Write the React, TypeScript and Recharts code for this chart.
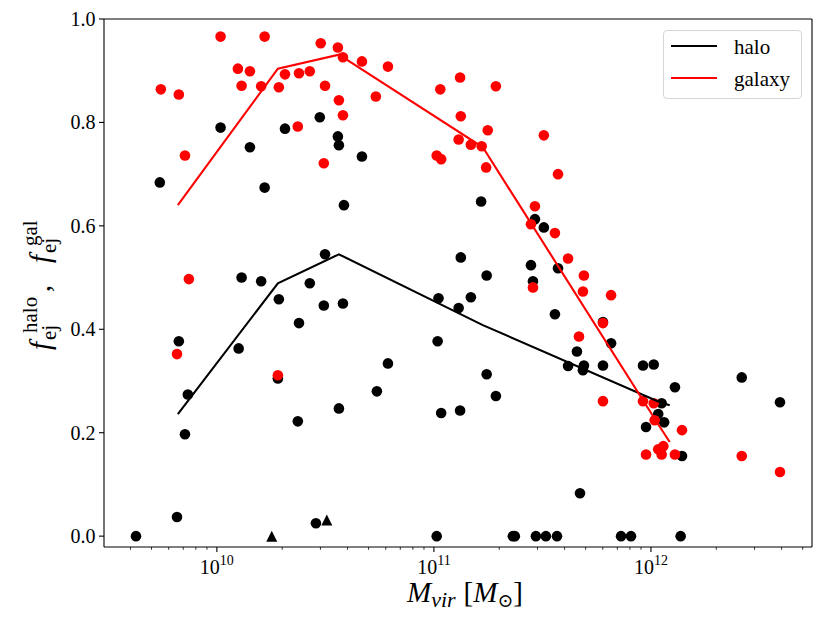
import React from 'react';
import { ScatterChart, Scatter, XAxis, YAxis, ReferenceLine } from 'recharts';

// ---------- data ----------
const haloMass = [
  1.04e10, 1.42e10, 5.46e9, 1.66e10, 2.06e10, 2.98e10, 3.61e10, 3.65e10, 3.85e10, 3.15e10,
  1.30e10, 1.60e10, 2.68e10, 4.66e10, 1.65e11, 2.92e11, 3.21e11, 1.33e11, 1.75e11, 2.80e11,
  2.86e11, 3.73e11, 3.81e10, 1.05e11, 1.30e11, 1.48e11, 3.61e11, 1.04e11, 6.14e10, 5.46e10,
  1.75e11, 1.93e11, 3.65e10, 1.08e11, 1.32e11, 4.15e11, 4.56e11, 4.71e11, 1.03e11, 2.31e11,
  2.36e11, 2.95e11, 3.28e11, 3.69e11, 6.01e11, 6.55e11, 4.91e11, 4.86e11, 6.01e11, 9.19e11,
  1.03e12, 1.29e12, 1.12e12, 1.08e12, 1.15e12, 9.49e11, 1.39e12, 2.62e12, 3.93e12, 7.28e11,
  8.09e11, 1.37e12, 1.93e10, 3.11e10, 2.39e10, 6.68e9, 1.26e10, 1.91e10, 7.35e9, 7.13e9,
  2.36e10, 6.55e9, 2.86e10, 4.24e9,
];
const haloFrac = [
  0.790, 0.752, 0.684, 0.674, 0.788, 0.810, 0.773, 0.756, 0.640, 0.545,
  0.500, 0.493, 0.489, 0.734, 0.647, 0.613, 0.597, 0.539, 0.504, 0.524,
  0.493, 0.518, 0.450, 0.460, 0.441, 0.462, 0.429, 0.377, 0.334, 0.280,
  0.313, 0.271, 0.247, 0.238, 0.243, 0.329, 0.357, 0.083, 0.0, 0.0,
  0.0, 0.0, 0.0, 0.0, 0.414, 0.373, 0.330, 0.321, 0.330, 0.330,
  0.332, 0.288, 0.257, 0.236, 0.220, 0.211, 0.155, 0.307, 0.259, 0.0,
  0.0, 0.0, 0.458, 0.446, 0.412, 0.377, 0.363, 0.305, 0.274, 0.197,
  0.222, 0.037, 0.025, 0.0,
];

const triMass = [1.79e10, 3.21e10];
const triFrac = [0.0, 0.031];

const galMass = [
  5.52e9, 6.68e9, 1.04e10, 1.66e10, 1.25e10, 1.42e10, 1.30e10, 1.60e10, 1.93e10, 2.06e10,
  2.39e10, 2.68e10, 3.01e10, 3.61e10, 3.81e10, 3.15e10, 3.65e10, 3.81e10, 2.36e10, 3.11e10,
  7.13e9, 7.43e9, 4.66e10, 6.14e10, 5.40e10, 1.07e11, 1.32e11, 1.93e11, 1.33e11, 1.77e11,
  1.30e11, 1.48e11, 1.66e11, 1.03e11, 1.08e11, 1.74e11, 3.21e11, 3.73e11, 2.92e11, 2.80e11,
  3.61e11, 4.15e11, 2.86e11, 4.91e11, 4.86e11, 6.55e11, 6.01e11, 4.66e11, 6.01e11, 9.19e11,
  1.03e12, 1.04e12, 1.39e12, 9.49e11, 1.08e12, 1.14e12, 1.12e12, 1.29e12, 2.62e12, 3.93e12,
  6.55e9, 1.91e10,
];
const galFrac = [
  0.864, 0.854, 0.966, 0.966, 0.904, 0.899, 0.871, 0.870, 0.868, 0.893,
  0.895, 0.899, 0.953, 0.945, 0.926, 0.871, 0.843, 0.814, 0.792, 0.721,
  0.736, 0.497, 0.918, 0.908, 0.850, 0.864, 0.887, 0.870, 0.812, 0.785,
  0.767, 0.757, 0.754, 0.736, 0.729, 0.713, 0.775, 0.700, 0.638, 0.603,
  0.586, 0.537, 0.481, 0.504, 0.473, 0.466, 0.412, 0.386, 0.261, 0.261,
  0.257, 0.224, 0.205, 0.158, 0.168, 0.174, 0.158, 0.158, 0.155, 0.124,
  0.352, 0.311,
];

const lineMass = [6.61e9, 1.91e10, 3.65e10, 1.68e11, 1.10e12, 1.22e12];
const haloLine = [0.236, 0.489, 0.545, 0.408, 0.259, 0.253];
const galLine = [0.640, 0.904, 0.931, 0.752, 0.211, 0.182];

const xTicks = [
  4e9, 5e9, 6e9, 7e9, 8e9, 9e9,
  1e10, 2e10, 3e10, 4e10, 5e10, 6e10, 7e10, 8e10, 9e10,
  1e11, 2e11, 3e11, 4e11, 5e11, 6e11, 7e11, 8e11, 9e11,
  1e12, 2e12, 3e12, 4e12, 5e12,
];
const yTicks = [0, 0.2, 0.4, 0.6, 0.8, 1.0];

const X_DOMAIN: [number, number] = [3.02e9, 5.52e12];
const Y_DOMAIN: [number, number] = [-0.021, 1.0];

const toPoints = (ms: number[], fs: number[]) => ms.map((m, i) => ({ m, f: fs[i] }));

const haloPts = toPoints(haloMass, haloFrac);
const triPts = toPoints(triMass, triFrac);
const galPts = toPoints(galMass, galFrac);
const haloLinePts = toPoints(lineMass, haloLine);
const galLinePts = toPoints(lineMass, galLine);

const FONT = "'Liberation Serif', 'DejaVu Serif', serif";
const serif = { fontFamily: FONT };

// ---------- render helpers ----------
const XTick = (props: any) => {
  const { x, y, payload } = props;
  const v = payload.value as number;
  const lg = Math.log10(v);
  const exp = Math.round(lg);
  const major = Math.abs(lg - exp) < 1e-6;
  return (
    <g>
      <line x1={x} x2={x} y1={y} y2={y + (major ? 5 : 2.8)} stroke="#000" strokeWidth={major ? 1.1 : 0.8} />
      {major && (
        <text x={x} y={y + 27} textAnchor="middle" fontSize={20} fill="#000" style={serif}>
          <tspan>10</tspan>
          <tspan fontSize={14} dy={-9}>{exp}</tspan>
        </text>
      )}
    </g>
  );
};

const YTick = (props: any) => {
  const { x, y, payload } = props;
  return (
    <g>
      <line x1={x - 5} x2={x} y1={y} y2={y} stroke="#000" strokeWidth={1.1} />
      <text x={x - 8.5} y={y + 7} textAnchor="end" fontSize={20} fill="#000" style={serif}>
        {(payload.value as number).toFixed(1)}
      </text>
    </g>
  );
};

const XTitle = () => (
  <text x={457} y={594} textAnchor="middle" fill="#000" style={serif}>
    <tspan fontStyle="italic" fontSize={29}>M</tspan>
    <tspan fontStyle="italic" fontSize={22} dy={5}>vir</tspan>
    <tspan fontSize={29} dy={-5} dx={8}>[</tspan>
    <tspan fontStyle="italic" fontSize={29}>M</tspan>
    <tspan fontSize={19} dy={5}>⊙</tspan>
    <tspan fontSize={29} dy={-5}>]</tspan>
  </text>
);

const YTitle = () => (
  <g transform="translate(42,275) rotate(-90)" fill="#000" style={serif}>
    <text x={-67} y={0} fontStyle="italic" fontSize={29}>f</text>
    <text x={-50} y={-13} fontSize={21}>halo</text>
    <text x={-57} y={6} fontSize={21}>ej</text>
    <text x={-9} y={0} fontSize={28}>,</text>
    <text x={20} y={0} fontStyle="italic" fontSize={29}>f</text>
    <text x={37} y={-13} fontSize={21}>gal</text>
    <text x={30} y={6} fontSize={21}>ej</text>
  </g>
);

const dot = (color: string) => (props: any) => (
  <circle cx={props.cx} cy={props.cy} r={5.3} fill={color} />
);
const tri = (props: any) => {
  const { cx, cy } = props;
  const s = 5.5;
  return <polygon points={`${cx},${cy - s} ${cx - s},${cy + s} ${cx + s},${cy + s}`} fill="#000" />;
};
const noShape = () => <g />;

const Legend = () => (
  <div
    style={{
      position: 'absolute',
      left: 655,
      top: 22,
      width: 139,
      height: 69,
      boxSizing: 'border-box',
      border: '1px solid #d6d6d6',
      borderRadius: 4,
      background: 'rgba(255,255,255,0.8)',
    }}
  >
    <svg width={137} height={67} style={{ display: 'block' }}>
      <line x1={7} x2={53} y1={15} y2={15} stroke="#000" strokeWidth={2.1} />
      <text x={70} y={23} fontSize={21} fill="#000" style={serif}>halo</text>
      <line x1={7} x2={53} y1={47} y2={47} stroke="#ff0000" strokeWidth={2.1} />
      <text x={70} y={55} fontSize={21} fill="#000" style={serif}>galaxy</text>
    </svg>
  </div>
);

export default function App() {
  return (
    <div style={{ position: 'relative', width: 822, height: 616, background: '#fff' }}>
      <ScatterChart width={822} height={616} margin={{ top: 11, right: 18, bottom: 0, left: 0 }}>
        <XAxis
          type="number"
          dataKey="m"
          scale="log"
          domain={X_DOMAIN}
          allowDataOverflow
          ticks={xTicks}
          interval={0}
          tick={<XTick />}
          tickLine={false}
          tickSize={0}
          tickMargin={0}
          height={77}
          axisLine={{ stroke: '#000', strokeWidth: 1.1 }}
          label={<XTitle />}
        />
        <YAxis
          type="number"
          dataKey="f"
          domain={Y_DOMAIN}
          allowDataOverflow
          ticks={yTicks}
          interval={0}
          tick={<YTick />}
          tickLine={false}
          tickSize={0}
          tickMargin={0}
          width={96}
          axisLine={{ stroke: '#000', strokeWidth: 1.1 }}
          label={<YTitle />}
        />
        <ReferenceLine y={Y_DOMAIN[1]} stroke="#000" strokeWidth={1.1} />
        <ReferenceLine x={X_DOMAIN[1]} stroke="#000" strokeWidth={1.1} />
        <Scatter data={haloPts} shape={dot('#000000')} isAnimationActive={false} />
        <Scatter data={triPts} shape={tri} isAnimationActive={false} />
        <Scatter data={galPts} shape={dot('#ff0000')} isAnimationActive={false} />
        <Scatter
          data={haloLinePts}
          shape={noShape}
          line={{ stroke: '#000000', strokeWidth: 2.1 }}
          isAnimationActive={false}
        />
        <Scatter
          data={galLinePts}
          shape={noShape}
          line={{ stroke: '#ff0000', strokeWidth: 2.1 }}
          isAnimationActive={false}
        />
      </ScatterChart>
      <Legend />
    </div>
  );
}
